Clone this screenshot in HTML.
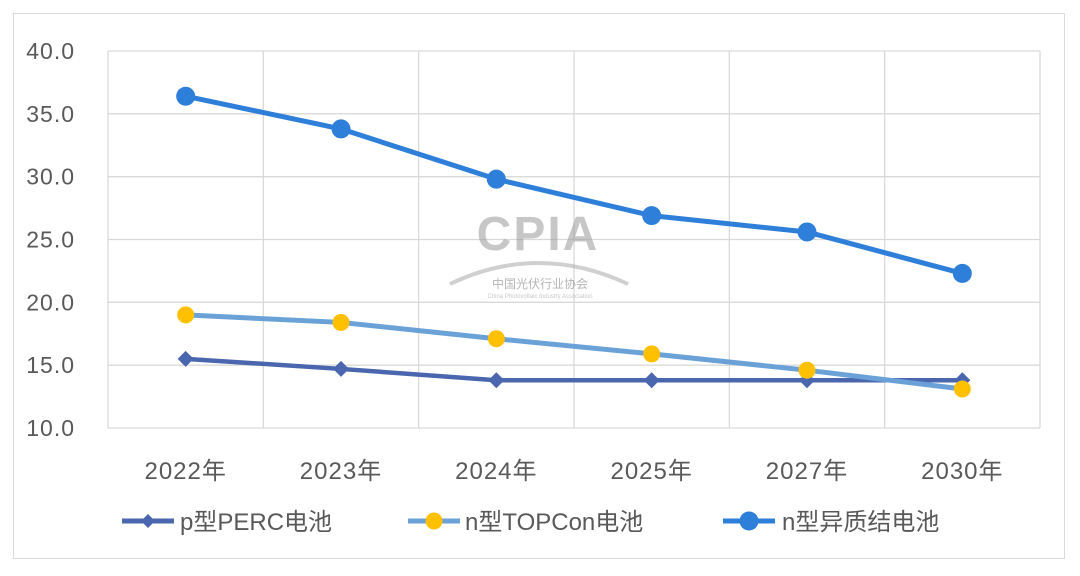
<!DOCTYPE html>
<html><head><meta charset="utf-8"><style>
body{margin:0;background:#fff;}
svg text{font-family:"Liberation Sans","Noto Sans CJK SC",sans-serif;}
</style></head><body>
<svg width="1080" height="571" xmlns="http://www.w3.org/2000/svg" id="chart">
<rect x="13.5" y="13.5" width="1051" height="545" fill="#fff" stroke="#d9d9d9"/>
<g id="grid"></g>
<g opacity="0.55">
<text x="538" y="250" text-anchor="middle" font-size="48" font-weight="bold" fill="#9a9a9a" letter-spacing="2">CPIA</text>
<path d="M450 284 Q538 242 628 284" fill="none" stroke="#aaa" stroke-width="4"/>
<text x="540" y="288" text-anchor="middle" font-size="12" fill="#777">中国光伏行业协会</text>
<text x="540" y="298" text-anchor="middle" font-size="6" fill="#999">China Photovoltaic Industry Association</text>
</g>
<g id="series"></g>
<g id="legend"></g>
</svg>
<script>
const categories=["2022年","2023年","2024年","2025年","2027年","2030年"];
const perc=[15.5,14.7,13.8,13.8,13.8,13.8];
const topcon=[19.0,18.4,17.1,15.9,14.6,13.1];
const hetero=[36.4,33.8,29.8,26.9,25.6,22.3];
const yTicks=[10,15,20,25,30,35,40];
const seriesNames=["p型PERC电池","n型TOPCon电池","n型异质结电池"];
const NS="http://www.w3.org/2000/svg";
const x0=108,x1=1040,yTop=51,yBot=428,yMin=10,yMax=40;
const bw=(x1-x0)/categories.length;
const X=i=>x0+bw*(i+0.5);
const Y=v=>yBot-(v-yMin)/(yMax-yMin)*(yBot-yTop);
function mk(tag,attrs,parent){const e=document.createElementNS(NS,tag);for(const k in attrs)e.setAttribute(k,attrs[k]);parent.appendChild(e);return e;}
const grid=document.getElementById('grid');
yTicks.forEach(t=>{
 const l=mk('line',{x1:x0,x2:x1,y1:Y(t),y2:Y(t),stroke:'#d9d9d9','stroke-width':1.3},grid);
 
 
 const tx=mk('text',{x:75,y:Y(t)+8,'text-anchor':'end','font-size':23,'letter-spacing':1,fill:'#595959'},grid);
 tx.textContent=t.toFixed(1);
 
 
});
for(let i=0;i<=categories.length;i++){
 const l=mk('line',{x1:x0+bw*i,x2:x0+bw*i,y1:yTop,y2:yBot,stroke:'#d9d9d9','stroke-width':1.3},grid);
 
 
}
categories.forEach((c,i)=>{
 const tx=mk('text',{x:X(i),y:479,'text-anchor':'middle','font-size':24,'letter-spacing':1,fill:'#595959'},grid);
 tx.textContent=c;
 
 
});
const sg=document.getElementById('series');
function drawSeries(vals,color,mcolor,marker,name){
 const g=mk('g',{},sg);
 
 
 mk('polyline',{points:vals.map((v,i)=>X(i)+','+Y(v)).join(' '),fill:'none',stroke:color,'stroke-width':marker==='diamond'?4.5:5,'stroke-linejoin':'round'},g);
 vals.forEach((v,i)=>{
  let m;
  if(marker==='diamond'){const x=X(i),y=Y(v);m=mk('path',{d:`M${x} ${y-8}L${x+8} ${y}L${x} ${y+8}L${x-8} ${y}Z`,fill:mcolor},g);}
  else m=mk('circle',{cx:X(i),cy:Y(v),r:marker==='big'?9.5:8.5,fill:mcolor},g);
  
  
 });
}
drawSeries(perc,'#4a66ae','#4a66ae','diamond','series-perc');
drawSeries(topcon,'#6aa2d8','#ffc000','circle','series-topcon');
drawSeries(hetero,'#2e7fd9','#2e7fd9','big','series-hetero');
const lg=document.getElementById('legend');
const legs=[[122,180,'#4a66ae','#4a66ae','diamond'],[408,465,'#6aa2d8','#ffc000','circle'],[723,782,'#2e7fd9','#2e7fd9','big']];
legs.forEach((L,k)=>{
 const g=mk('g',{},lg);
 
 
 const y=521;
 mk('line',{x1:L[0],x2:L[0]+52,y1:y,y2:y,stroke:L[2],'stroke-width':5},g);
 const cx=L[0]+26;
 if(L[4]==='diamond')mk('path',{d:`M${cx} ${y-7}L${cx+7} ${y}L${cx} ${y+7}L${cx-7} ${y}Z`,fill:L[3]},g);
 else mk('circle',{cx:cx,cy:y,r:L[4]==='big'?9.5:8.5,fill:L[3]},g);
 const t=mk('text',{x:L[1],y:y+9,'font-size':24,fill:'#595959'},g);
 t.textContent=seriesNames[k];
});
</script>
</body></html>
